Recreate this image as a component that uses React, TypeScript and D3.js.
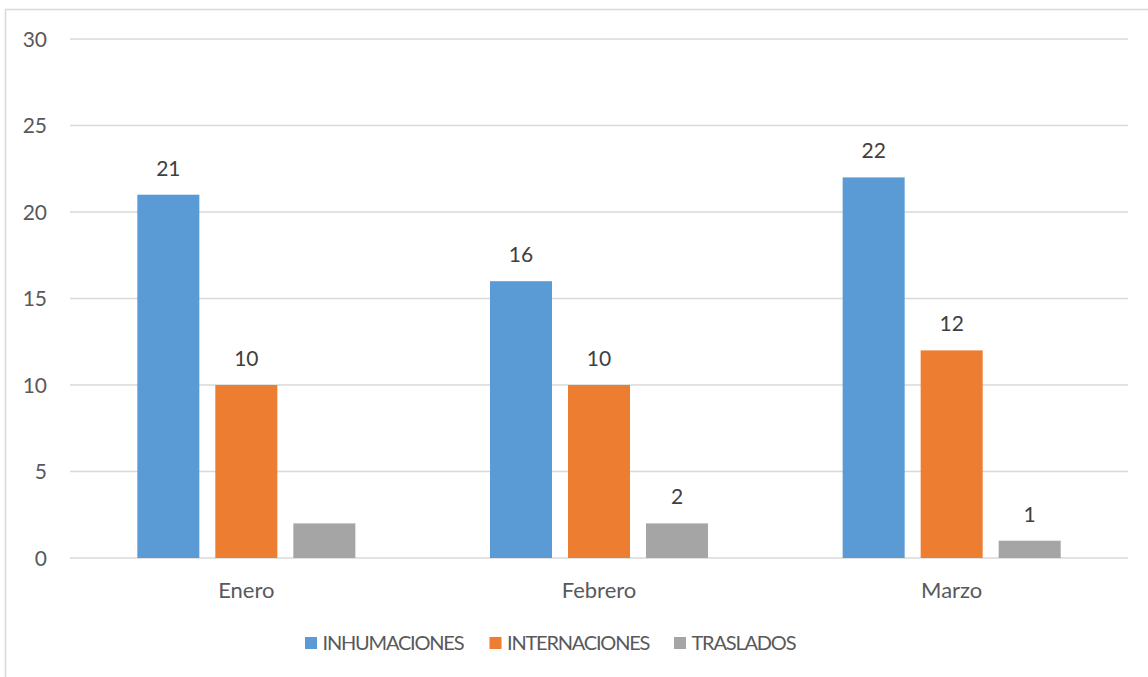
import React, { useEffect, useRef } from "react";
import * as d3 from "d3";

const months = ["Enero", "Febrero", "Marzo"];
const seriesNames = ["INHUMACIONES", "INTERNACIONES", "TRASLADOS"];
const inhumaciones = [21, 16, 22];
const internaciones = [10, 10, 12];
const traslados = [2, 2, 1];
// the reference leaves the label off the Enero / TRASLADOS bar
const hiddenLabels = ["Enero|TRASLADOS"];
const yTicks = [0, 5, 10, 15, 20, 25, 30];
const colors = ["#5B9BD5", "#ED7D31", "#A5A5A5"];

const W = 1148;
const H = 677;
const FONT = "Lato, 'Open Sans', sans-serif";

export default function App() {
  const ref = useRef<SVGSVGElement>(null);

  useEffect(() => {
    document.body.style.margin = "0";
    if (!ref.current) return;
    const svg = d3.select(ref.current);
    svg.selectAll("*").remove();

    const plot = { left: 70, right: 1128, top: 39, bottom: 558 };
    const values = [inhumaciones, internaciones, traslados];

    // chart frame
    svg.append("rect")
      .attr("x", 5.5).attr("y", 9.5)
      .attr("width", W + 20).attr("height", H + 20)
      .attr("fill", "#fff")
      .attr("stroke", "#D9D9D9")
      .attr("stroke-width", 1.5);

    const x = d3.scaleBand<string>().domain(months).range([plot.left, plot.right]);
    const xs = d3.scaleBand<string>()
      .domain(seriesNames)
      .range([0, x.bandwidth()])
      .paddingInner(0.205)
      .paddingOuter(0.863);
    const y = d3.scaleLinear().domain([0, 30]).range([plot.bottom, plot.top]);

    // gridlines + y ticks
    const grid = svg.append("g");
    grid.selectAll("line").data(yTicks).enter().append("line")
      .attr("x1", plot.left).attr("x2", plot.right)
      .attr("y1", (d) => y(d)).attr("y2", (d) => y(d))
      .attr("stroke", "#D9D9D9").attr("stroke-width", 1.5);
    grid.selectAll("text").data(yTicks).enter().append("text")
      .attr("x", 47).attr("y", (d) => y(d))
      .attr("dy", "0.36em")
      .attr("text-anchor", "end")
      .attr("font-family", FONT).attr("font-size", 21)
      .attr("fill", "#595959")
      .text((d) => d);

    // bars
    const flat = months.flatMap((m, i) =>
      seriesNames.map((s, j) => ({ m, s, j, v: values[j][i] }))
    );
    svg.append("g").selectAll("rect").data(flat).enter().append("rect")
      .attr("x", (d) => (x(d.m) as number) + (xs(d.s) as number))
      .attr("y", (d) => y(d.v))
      .attr("width", xs.bandwidth())
      .attr("height", (d) => y(0) - y(d.v))
      .attr("fill", (d) => colors[d.j]);

    // value labels
    svg.append("g").selectAll("text")
      .data(flat.filter((d) => !hiddenLabels.includes(`${d.m}|${d.s}`)))
      .enter().append("text")
      .attr("x", (d) => (x(d.m) as number) + (xs(d.s) as number) + xs.bandwidth() / 2)
      .attr("y", (d) => y(d.v) - 19)
      .attr("text-anchor", "middle")
      .attr("font-family", FONT).attr("font-size", 21)
      .attr("fill", "#404040")
      .text((d) => d.v);

    // category labels
    svg.append("g").selectAll("text").data(months).enter().append("text")
      .attr("x", (d) => (x(d) as number) + x.bandwidth() / 2)
      .attr("y", 598)
      .attr("text-anchor", "middle")
      .attr("font-family", FONT).attr("font-size", 22)
      .attr("fill", "#595959")
      .text((d) => d);

    // legend
    const legendX = [305, 489.5, 674];
    const lg = svg.append("g").selectAll("g").data(seriesNames).enter().append("g")
      .attr("transform", (_d, i) => `translate(${legendX[i]},637)`);
    lg.append("rect")
      .attr("width", 12).attr("height", 12)
      .attr("fill", (_d, i) => colors[i]);
    lg.append("text")
      .attr("x", 17.5).attr("y", 12.5)
      .attr("font-family", FONT).attr("font-size", 20)
      .attr("letter-spacing", -1.2)
      .attr("fill", "#595959")
      .text((d) => d);
  }, []);

  return <svg ref={ref} width={W} height={H} style={{ display: "block" }} />;
}
